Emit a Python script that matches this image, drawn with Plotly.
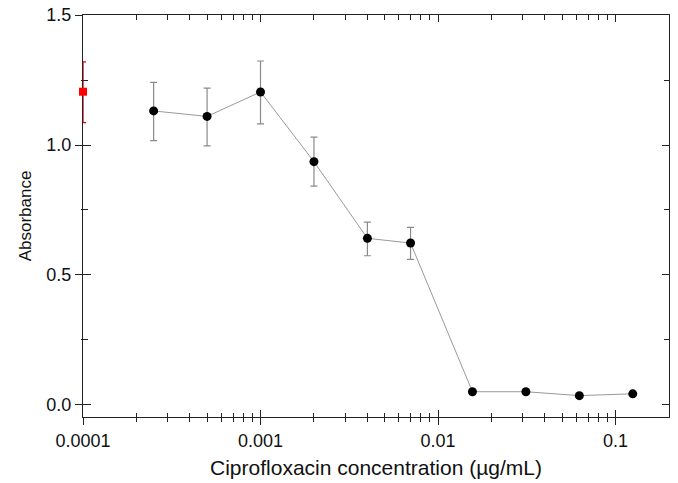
import math
import plotly.graph_objects as go

# ---- data ----
conc = [0.00025, 0.0005, 0.001, 0.002, 0.004, 0.007, 0.015625, 0.03125, 0.0625, 0.125]
absorbance = [1.131, 1.110, 1.204, 0.936, 0.641, 0.623, 0.051, 0.051, 0.036, 0.043]
err_plus = [0.110, 0.109, 0.119, 0.094, 0.062, 0.060, 0.0, 0.0, 0.0, 0.0]
err_minus = [0.114, 0.113, 0.123, 0.094, 0.067, 0.063, 0.0, 0.0, 0.0, 0.0]

control_x = [0.0001]
control_y = [1.205]
control_err_plus = [0.115]
control_err_minus = [0.119]

x_major = [0.0001, 0.001, 0.01, 0.1]
x_major_text = ["0.0001", "0.001", "0.01", "0.1"]
x_minor = [m * d for d in [0.0001, 0.001, 0.01] for m in range(2, 10)]
y_major = [0.0, 0.5, 1.0, 1.5]
y_major_text = ["0.0", "0.5", "1.0", "1.5"]
y_minor = [0.25, 0.75, 1.25]

x_range = [math.log10(0.0001), math.log10(0.2)]
y_range = [-0.0462, 1.5]

FONT = "Liberation Sans, Arial, sans-serif"
AX = "#222222"

fig = go.Figure()
fig.add_trace(go.Scatter(
    x=conc, y=absorbance, mode="lines+markers",
    line=dict(color="#9a9a9a", width=1),
    marker=dict(color="black", size=9),
    error_y=dict(type="data", array=err_plus, arrayminus=err_minus,
                 color="#8a8a8a", thickness=1.2, width=3.5),
    showlegend=False, cliponaxis=False,
))
fig.add_trace(go.Scatter(
    x=control_x, y=control_y, mode="markers",
    marker=dict(color="#ff0000", size=8, symbol="square"),
    error_y=dict(type="data", array=control_err_plus, arrayminus=control_err_minus,
                 color="#e00000", thickness=1.3, width=3),
    showlegend=False, cliponaxis=False,
))
# empty helper traces so that overlay axes get drawn
for xa, ya in [("x2", "y"), ("x3", "y"), ("x", "y2"), ("x", "y3")]:
    fig.add_trace(go.Scatter(x=[], y=[], xaxis=xa, yaxis=ya, showlegend=False, hoverinfo="skip"))

common_x = dict(type="log", range=x_range, showgrid=False, zeroline=False, tickcolor=AX,
                automargin=False, layer="below traces")
common_y = dict(range=y_range, showgrid=False, zeroline=False, tickcolor=AX,
                automargin=False, layer="below traces")

fig.update_layout(
    width=678, height=483,
    margin=dict(l=83, r=9, t=15, b=66),
    paper_bgcolor="white", plot_bgcolor="white",
    font=dict(family=FONT, size=18, color="#111111"),
    xaxis=dict(**common_x, tickmode="array", tickvals=x_major, ticktext=x_major_text,
               ticks="outside", ticklen=7, tickwidth=1,
               minor=dict(tickmode="array", tickvals=x_minor, ticks="outside", ticklen=4,
                          tickwidth=1, tickcolor=AX, showgrid=False),
               showline=True, linecolor=AX, linewidth=1, mirror=True,
               tickfont=dict(size=18),
               title=dict(text="Ciprofloxacin concentration (\u00b5g/mL)", standoff=10,
                          font=dict(size=21))),
    xaxis2=dict(**common_x, overlaying="x", anchor="y", side="bottom",
                tickmode="array", tickvals=x_major, ticks="inside", ticklen=7, tickwidth=1,
                showticklabels=False, showline=False,
                minor=dict(tickmode="array", tickvals=x_minor, ticks="inside", ticklen=4,
                           tickwidth=1, tickcolor=AX, showgrid=False)),
    xaxis3=dict(**common_x, overlaying="x", anchor="y", side="top",
                tickmode="array", tickvals=x_major, ticks="inside", ticklen=7, tickwidth=1,
                showticklabels=False, showline=False,
                minor=dict(tickmode="array", tickvals=x_minor, ticks="inside", ticklen=5,
                           tickwidth=1, tickcolor=AX, showgrid=False)),
    yaxis=dict(**common_y, tickmode="array", tickvals=y_major, ticktext=y_major_text,
               ticks="outside", ticklen=7, tickwidth=1,
               minor=dict(tickmode="array", tickvals=y_minor, ticks="outside", ticklen=1,
                          tickwidth=1, tickcolor=AX, showgrid=False),
               showline=True, linecolor=AX, linewidth=1, mirror=True,
               tickfont=dict(size=18),
               title=dict(text="Absorbance", standoff=10, font=dict(size=17))),
    yaxis2=dict(**common_y, overlaying="y", anchor="x", side="left",
                tickmode="array", tickvals=y_major, ticks="inside", ticklen=8, tickwidth=1,
                showticklabels=False, showline=False,
                minor=dict(tickmode="array", tickvals=y_minor, ticks="inside", ticklen=5,
                           tickwidth=1, tickcolor=AX, showgrid=False)),
    yaxis3=dict(**common_y, overlaying="y", anchor="x", side="right",
                tickmode="array", tickvals=y_major, ticks="inside", ticklen=7, tickwidth=1,
                showticklabels=False, showline=False,
                minor=dict(tickmode="array", tickvals=y_minor, ticks="inside", ticklen=5,
                           tickwidth=1, tickcolor=AX, showgrid=False)),
)

fig.write_html("out.html", config={"displayModeBar": False},
               post_script="document.body.style.margin='0';")
